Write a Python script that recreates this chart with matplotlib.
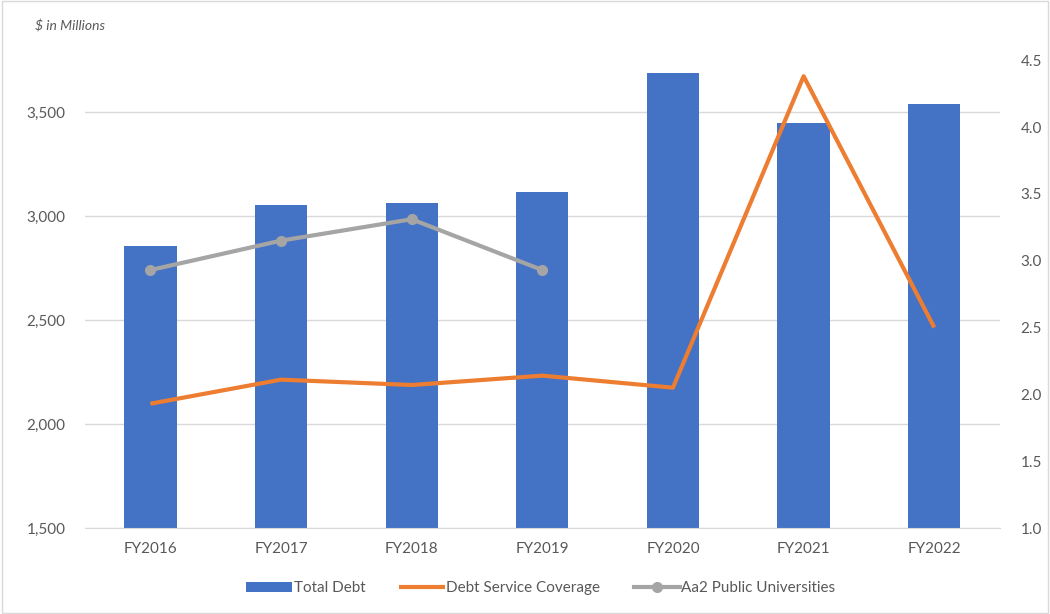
import matplotlib.pyplot as plt
import numpy as np

plt.rcParams['font.family'] = ['Lato', 'DejaVu Sans']

years = ["FY2016", "FY2017", "FY2018", "FY2019", "FY2020", "FY2021", "FY2022"]
total_debt = [2858, 3055, 3062, 3117, 3687, 3447, 3540]
debt_coverage = [1.93, 2.11, 2.07, 2.14, 2.05, 4.38, 2.50]
aa2_years = ["FY2016", "FY2017", "FY2018", "FY2019"]
aa2_public = [2.93, 3.15, 3.31, 2.93]

blue = "#4472C4"
orange = "#ED7D31"
gray = "#A5A5A5"
text_color = "#595959"

fig = plt.figure(figsize=(10.5, 6.14), dpi=100)
fig.patches.append(plt.Rectangle((0.002, 0.002), 0.996, 0.996, transform=fig.transFigure,
                                 fill=False, edgecolor="#D9D9D9", linewidth=1))
ax = fig.add_axes([0.081, 0.140, 0.871, 0.762])
x = np.arange(len(years))

ax.set_axisbelow(True)
ax.yaxis.grid(True, color="#D9D9D9", linewidth=1)
bars = ax.bar(x, total_debt, width=0.4, color=blue, label="Total Debt", zorder=2)
ax.set_ylim(1500, 3750)
ax.set_yticks([1500, 2000, 2500, 3000, 3500])
ax.set_yticklabels(["{:,}".format(v) for v in [1500, 2000, 2500, 3000, 3500]])
ax.set_xlim(-0.5, len(years) - 0.5)
ax.set_xticks(x)
ax.set_xticklabels(years)

for s in ["top", "left", "right"]:
    ax.spines[s].set_visible(False)
ax.spines["bottom"].set_color("#D9D9D9")
ax.tick_params(axis="both", length=0, labelsize=11, colors=text_color, pad=10)
ax.tick_params(axis="y", pad=14)

ax2 = ax.twinx()
line1, = ax2.plot(x, debt_coverage, color=orange, linewidth=3, label="Debt Service Coverage",
                  solid_capstyle="butt")
xa = [years.index(y) for y in aa2_years]
line2, = ax2.plot(xa, aa2_public, color=gray, linewidth=3, marker="o", markersize=7,
                  label="Aa2 Public Universities")
ax2.set_ylim(1.0, 4.5)
ax2.set_yticks(np.arange(1.0, 4.51, 0.5))
ax2.set_yticklabels(["{:.1f}".format(v) for v in np.arange(1.0, 4.51, 0.5)])
for s in ["top", "left", "right", "bottom"]:
    ax2.spines[s].set_visible(False)
ax2.tick_params(axis="y", length=0, labelsize=11, colors=text_color, pad=15)

fig.text(0.033, 0.958, "$ in Millions", fontsize=10, style="italic", color=text_color, va="center")

fig.legend(handles=[bars, line1, line2], loc="center", bbox_to_anchor=(0.515, 0.042), ncol=3,
           frameon=False, fontsize=11, labelcolor=text_color, handlelength=3.0,
           handletextpad=0.1, columnspacing=2.2)

fig.savefig("out.png", dpi=100)
